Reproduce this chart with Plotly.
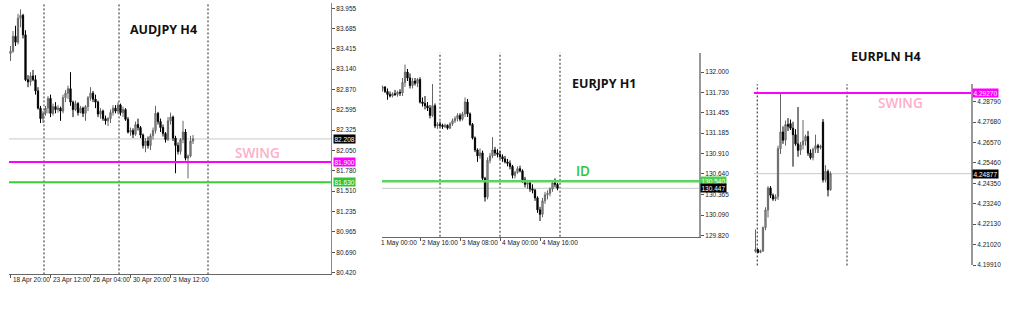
import plotly.graph_objects as go

W, H = 1024, 320

# ---------------- AUDJPY H4 ----------------
aud_open = [83.35, 83.38, 83.58, 83.50, 83.82, 83.86, 83.60, 83.00, 82.97, 83.05,
            83.00, 82.85, 82.62, 82.48, 82.55, 82.62, 82.75, 82.55, 82.64, 82.60,
            82.62, 82.58, 82.76, 82.82, 82.88, 82.70, 82.60, 82.68, 82.56, 82.62,
            82.55, 82.64, 82.76, 82.82, 82.74, 82.70, 82.54, 82.58, 82.48, 82.45,
            82.48, 82.56, 82.62, 82.58, 82.66, 82.56, 82.60, 82.47, 82.30, 82.32,
            82.27, 82.40, 82.36, 82.26, 82.12, 82.18, 82.12, 82.25, 82.32, 82.55,
            82.44, 82.36, 82.28, 82.20, 82.45, 82.50, 82.22, 82.12, 82.04, 82.20,
            82.30, 81.95, 81.98, 82.18]
aud_high = [83.45, 83.65, 83.72, 83.88, 83.94, 83.88, 83.66, 83.06, 83.10, 83.13,
            83.06, 82.90, 82.65, 82.58, 82.65, 82.78, 82.80, 82.68, 82.70, 82.66,
            82.64, 82.80, 82.86, 82.92, 83.10, 82.72, 82.72, 82.70, 82.65, 82.64,
            82.66, 82.78, 82.90, 82.85, 82.80, 82.72, 82.62, 82.60, 82.52, 82.50,
            82.60, 82.66, 82.66, 82.70, 82.68, 82.64, 82.62, 82.50, 82.36, 82.35,
            82.44, 82.48, 82.38, 82.28, 82.22, 82.24, 82.28, 82.36, 82.65, 82.57,
            82.48, 82.40, 82.30, 82.50, 82.56, 82.52, 82.25, 82.16, 82.22, 82.45,
            82.34, 82.00, 82.25, 82.26]
aud_low = [83.25, 83.36, 83.45, 83.47, 83.70, 83.55, 82.98, 82.90, 82.92, 82.98,
           82.80, 82.60, 82.42, 82.42, 82.52, 82.55, 82.50, 82.52, 82.55, 82.56,
           82.45, 82.55, 82.70, 82.74, 82.65, 82.50, 82.58, 82.52, 82.55, 82.50,
           82.45, 82.58, 82.72, 82.70, 82.62, 82.50, 82.48, 82.45, 82.40, 82.38,
           82.42, 82.52, 82.55, 82.54, 82.52, 82.50, 82.45, 82.28, 82.25, 82.22,
           82.25, 82.32, 82.22, 82.08, 82.03, 82.08, 82.06, 82.20, 82.28, 82.40,
           82.30, 82.24, 82.16, 82.18, 82.40, 82.18, 81.75, 82.00, 82.00, 82.15,
           81.92, 81.68, 81.96, 82.14]
aud_close = [83.38, 83.58, 83.50, 83.82, 83.86, 83.60, 83.00, 82.97, 83.05, 83.00,
             82.85, 82.62, 82.48, 82.55, 82.62, 82.75, 82.55, 82.64, 82.60, 82.62,
             82.58, 82.76, 82.82, 82.88, 82.70, 82.60, 82.68, 82.56, 82.62, 82.55,
             82.64, 82.76, 82.82, 82.74, 82.70, 82.54, 82.58, 82.48, 82.45, 82.48,
             82.56, 82.62, 82.58, 82.66, 82.56, 82.60, 82.47, 82.30, 82.32, 82.27,
             82.40, 82.36, 82.26, 82.12, 82.18, 82.12, 82.25, 82.32, 82.55, 82.44,
             82.36, 82.28, 82.20, 82.45, 82.50, 82.22, 82.12, 82.04, 82.20, 82.30,
             81.95, 81.98, 82.18, 82.208]
aud_xtick_bars = [0, 16, 32, 48, 64]
aud_xtick_labels = ["18 Apr 20:00", "23 Apr 12:00", "26 Apr 04:00", "30 Apr 20:00", "3 May 12:00"]
aud_separators = [13.4, 43.4, 79.0]
aud_yticks = [83.955, 83.685, 83.415, 83.140, 82.870, 82.595, 82.325, 82.050,
              81.780, 81.510, 81.235, 80.965, 80.690, 80.420]
aud_last = 82.208
aud_swing = 81.900
aud_green = 81.630

# ---------------- EURJPY H1 ----------------
ej_open = [131.78, 131.80, 131.74, 131.70, 131.68, 131.71, 131.70, 131.73, 131.72, 131.86,
           132.00, 131.92, 131.82, 131.88, 131.85, 131.90, 131.60, 131.58, 131.55, 131.52,
           131.42, 131.55, 131.28, 131.30, 131.29, 131.27, 131.29, 131.25, 131.31, 131.35,
           131.38, 131.42, 131.37, 131.44, 131.60, 131.44, 131.30, 131.12, 130.96, 130.88,
           130.92, 130.58, 130.33, 130.82, 130.88, 130.96, 130.92, 130.90, 130.87, 130.84,
           130.80, 130.78, 130.74, 130.62, 130.66, 130.71, 130.68, 130.56, 130.50, 130.52,
           130.44, 130.42, 130.32, 130.16, 130.10, 130.28, 130.36, 130.38, 130.44, 130.52,
           130.50]
ej_high = [131.82, 131.81, 131.78, 131.74, 131.73, 131.76, 131.75, 131.77, 131.92, 132.10,
           132.04, 131.98, 131.92, 131.92, 131.92, 131.93, 131.66, 131.68, 131.60, 131.56,
           131.84, 131.58, 131.33, 131.34, 131.31, 131.31, 131.30, 131.33, 131.38, 131.41,
           131.45, 131.45, 131.47, 131.66, 131.64, 131.46, 131.32, 131.14, 130.98, 130.98,
           130.95, 130.60, 130.86, 130.92, 131.13, 131.00, 130.97, 130.95, 130.90, 130.88,
           130.84, 130.82, 130.76, 130.68, 130.74, 130.75, 130.70, 130.60, 130.56, 130.54,
           130.50, 130.44, 130.34, 130.20, 130.32, 130.40, 130.42, 130.46, 130.55, 130.58,
           130.52]
ej_low = [131.74, 131.72, 131.63, 131.66, 131.66, 131.68, 131.67, 131.68, 131.68, 131.80,
          131.88, 131.78, 131.78, 131.82, 131.80, 131.58, 131.54, 131.50, 131.48, 131.38,
          131.40, 131.25, 131.24, 131.26, 131.24, 131.25, 131.23, 131.24, 131.28, 131.32,
          131.34, 131.34, 131.35, 131.40, 131.40, 131.28, 131.10, 130.93, 130.80, 130.84,
          130.55, 130.27, 130.30, 130.78, 130.85, 130.88, 130.86, 130.84, 130.80, 130.78,
          130.74, 130.70, 130.58, 130.58, 130.64, 130.66, 130.52, 130.46, 130.44, 130.40,
          130.38, 130.28, 130.12, 130.01, 130.06, 130.24, 130.30, 130.34, 130.40, 130.46,
          130.42]
ej_close = [131.80, 131.74, 131.70, 131.68, 131.71, 131.70, 131.73, 131.72, 131.86, 132.00,
            131.92, 131.82, 131.88, 131.85, 131.90, 131.60, 131.58, 131.55, 131.52, 131.42,
            131.55, 131.28, 131.30, 131.29, 131.27, 131.29, 131.25, 131.31, 131.35, 131.38,
            131.42, 131.37, 131.44, 131.60, 131.44, 131.30, 131.12, 130.96, 130.88, 130.92,
            130.58, 130.33, 130.82, 130.88, 130.96, 130.92, 130.90, 130.87, 130.84, 130.80,
            130.78, 130.74, 130.62, 130.66, 130.71, 130.68, 130.56, 130.50, 130.52, 130.44,
            130.42, 130.32, 130.16, 130.10, 130.28, 130.36, 130.38, 130.44, 130.52, 130.50,
            130.447]
ej_first_bar = 1
ej_xtick_bars = [0, 16, 32, 48, 64]
ej_xtick_labels = ["1 May 00:00", "2 May 16:00", "3 May 08:00", "4 May 00:00", "4 May 16:00"]
ej_separators = [24, 48, 72]
ej_yticks = [132.000, 131.730, 131.455, 131.185, 130.910, 130.640, 130.365, 130.090, 129.820]
ej_last = 130.447
ej_green = 130.540

# ---------------- EURPLN H4 ----------------
ep_open = [4.2065, 4.2075, 4.2060, 4.2068, 4.2195, 4.2290, 4.2410, 4.2370, 4.2350, 4.2362,
           4.2624, 4.2715, 4.2670, 4.2755, 4.2760, 4.2735, 4.2700, 4.2650, 4.2615, 4.2645,
           4.2665, 4.2690, 4.2600, 4.2575, 4.2620, 4.2640, 4.2630, 4.2768, 4.2454, 4.2500,
           4.2400]
ep_high = [4.2185, 4.2078, 4.2075, 4.2200, 4.2305, 4.2420, 4.2420, 4.2380, 4.2375, 4.2640,
           4.2924, 4.2745, 4.2777, 4.2790, 4.2782, 4.2770, 4.2730, 4.2850, 4.2660, 4.2780,
           4.2700, 4.2720, 4.2620, 4.2630, 4.2700, 4.2650, 4.2645, 4.2785, 4.2534, 4.2510,
           4.2500]
ep_low = [4.2058, 4.2055, 4.2055, 4.2062, 4.2180, 4.2250, 4.2355, 4.2340, 4.2338, 4.2345,
          4.2595, 4.2650, 4.2640, 4.2720, 4.2725, 4.2526, 4.2640, 4.2580, 4.2590, 4.2620,
          4.2640, 4.2585, 4.2565, 4.2560, 4.2600, 4.2600, 4.2620, 4.2440, 4.2440, 4.2364,
          4.2395]
ep_close = [4.2075, 4.2060, 4.2068, 4.2195, 4.2290, 4.2410, 4.2370, 4.2350, 4.2362, 4.2624,
            4.2715, 4.2670, 4.2755, 4.2745, 4.2735, 4.2700, 4.2650, 4.2615, 4.2645, 4.2665,
            4.2690, 4.2600, 4.2575, 4.2620, 4.2640, 4.2630, 4.2638, 4.2454, 4.2500, 4.2400,
            4.24877]
ep_separators = [0.7, 36.6]
ep_yticks = [4.28790, 4.27680, 4.26570, 4.25460, 4.24350, 4.23240, 4.22130, 4.21020, 4.19910]
ep_last = 4.24877
ep_swing = 4.29270

# ---------------- helpers ----------------
def px(x):
    return x / W

def py(y):
    return 1 - y / H

UP_FILL, UP_LINE = "#a0a0a0", "#666666"
DN_FILL, DN_LINE = "#000000", "#000000"
MAGENTA = "#ff00ff"
GREEN = "#3ccc3c"
GREY = "#c8c8c8"
PINK = "#ffadc8"
TICKFONT = dict(family="Liberation Sans, Arial, sans-serif", size=6.5, color="#222")

def candle(xs, o, h, l, c, xa, ya):
    return go.Candlestick(
        x=xs, open=o, high=h, low=l, close=c, xaxis=xa, yaxis=ya,
        increasing=dict(line=dict(color=UP_LINE, width=1), fillcolor=UP_FILL),
        decreasing=dict(line=dict(color=DN_LINE, width=1), fillcolor=DN_FILL),
        whiskerwidth=0, hoverinfo="skip", showlegend=False,
    )

fig = go.Figure()
fig.add_trace(candle(list(range(len(aud_close))), aud_open, aud_high, aud_low, aud_close, "x", "y"))
fig.add_trace(candle(list(range(ej_first_bar, ej_first_bar + len(ej_close))), ej_open, ej_high, ej_low, ej_close, "x2", "y2"))
fig.add_trace(candle(list(range(len(ep_close))), ep_open, ep_high, ep_low, ep_close, "x3", "y3"))

def yax(domain, rng, ticks, fmt, linecolor, linewidth):
    return dict(domain=domain, range=rng, side="right", showgrid=False, zeroline=False,
                showline=True, linecolor=linecolor, linewidth=linewidth,
                ticks="outside", ticklen=3, tickcolor="#555", tickwidth=1,
                tickvals=ticks, ticktext=[fmt.format(t) for t in ticks],
                tickfont=TICKFONT, fixedrange=True)

def xax(domain, rng, ticks, showline, anchor):
    return dict(domain=domain, range=rng, showgrid=False, zeroline=False,
                showline=showline, linecolor="#666", linewidth=1,
                ticks="outside" if ticks else "", ticklen=3, tickcolor="#555",
                tickvals=ticks, showticklabels=False, anchor=anchor,
                rangeslider=dict(visible=False), fixedrange=True)

# chart 1: x 9..331 px, y 3..277 px ; bar0 at x=10.5, 2.5 px/bar
fig.update_layout(
    xaxis=xax([px(9), px(331)], [(9 - 10.5) / 2.5, (331 - 10.5) / 2.5], aud_xtick_bars, True, "y"),
    yaxis=yax([py(277), py(3)], [80.420 - 1.7 / 75.53, 83.955 + 5.3 / 75.53], aud_yticks, "{:.3f}", "#888", 1),
    xaxis2=xax([px(382), px(699)], [(382 - 380) / 2.5, (699 - 380) / 2.5], ej_xtick_bars, True, "y2"),
    yaxis2=yax([py(239), py(53)], [132.0 - (239 - 72.7) / 75.6, 132.0 + (72.7 - 53) / 75.6], ej_yticks, "{:.3f}", "#999", 2),
    xaxis3=xax([px(754), px(971)], [(754 - 755.5) / 2.5, (971 - 755.5) / 2.5], None, False, "y3"),
    yaxis3=yax([py(268), py(85)], [4.28790 - (268 - 102.7) / 1856, 4.28790 + (102.7 - 85) / 1856], ep_yticks, "{:.5f}", "#999", 2),
)
fig.layout.yaxis.anchor = "x"
fig.layout.yaxis2.anchor = "x2"
fig.layout.yaxis3.anchor = "x3"

shapes = []
def hline(xa, ya, v, color, width, layer="above"):
    shapes.append(dict(type="line", xref=f"{xa} domain", x0=0, x1=1, yref=ya, y0=v, y1=v,
                       line=dict(color=color, width=width), layer=layer))

def vsep(xa, ya, v):
    shapes.append(dict(type="line", xref=xa, x0=v, x1=v, yref=f"{ya} domain", y0=0, y1=1,
                       line=dict(color="#222", width=1, dash="2px,2px"), layer="below"))

for s in aud_separators:
    vsep("x", "y", s)
for s in ej_separators:
    vsep("x2", "y2", s)
for s in ep_separators:
    vsep("x3", "y3", s)

hline("x", "y", aud_last, GREY, 1, "below")
hline("x", "y", aud_swing, MAGENTA, 2)
hline("x", "y", aud_green, GREEN, 2)
hline("x2", "y2", ej_last, GREY, 1, "below")
hline("x2", "y2", ej_green, "#5fd35f", 2.5)
hline("x3", "y3", ep_last, GREY, 1, "below")
hline("x3", "y3", ep_swing, MAGENTA, 2)
fig.update_layout(shapes=shapes)

ann = []
def price_box(xpix, ya, v, fmt, bg):
    ann.append(dict(x=px(xpix), xref="paper", xanchor="left", y=v, yref=ya, yanchor="middle",
                    text=fmt.format(v), showarrow=False, bgcolor=bg, borderpad=0.5,
                    font=dict(family=TICKFONT["family"], size=6.5, color="white")))

price_box(333, "y", aud_last, "{:.3f}", "#000")
price_box(333, "y", aud_swing, "{:.3f}", MAGENTA)
price_box(333, "y", aud_green, "{:.3f}", "#33c433")
price_box(700, "y2", ej_green, "{:.3f}", "#4fcf4f")
price_box(700, "y2", ej_last, "{:.3f}", "#000")
price_box(972, "y3", ep_swing, "{:.5f}", MAGENTA)
price_box(972, "y3", ep_last, "{:.5f}", "#000")

def xlabels(xa, bars, labels, ypix, x0pix=None):
    for i, (b, t) in enumerate(zip(bars, labels)):
        if i == 0 and x0pix is not None:
            xv, xr = px(x0pix), "paper"   # first label sits at the clipped left edge
        else:
            xv, xr = b, xa
        ann.append(dict(x=xv, xref=xr, xanchor="left", y=py(ypix), yref="paper", yanchor="middle",
                        text=t, showarrow=False, font=TICKFONT))

xlabels("x", aud_xtick_bars, aud_xtick_labels, 283)
xlabels("x2", ej_xtick_bars, ej_xtick_labels, 245, x0pix=379)

def text(xpix, ypix, t, size, color, bold=False, weight=None):
    f = dict(family="Open Sans, sans-serif", size=size, color=color)
    if weight:
        f["weight"] = weight
    ann.append(dict(x=px(xpix), xref="paper", y=py(ypix), yref="paper", xanchor="center",
                    yanchor="middle", showarrow=False,
                    text=f"<b>{t}</b>" if bold else t, font=f))

text(163, 30, "AUDJPY H4", 12.5, "#111", True)
text(257, 154, "SWING", 13.5, PINK, weight=600)
text(604, 84.5, "EURJPY H1", 12.5, "#111", True)
text(583, 172.5, "ID", 13.5, "#33c233", weight=600)
text(885.5, 57, "EURPLN H4", 12.5, "#111", True)
text(900.5, 103.5, "SWING", 13.5, PINK, weight=600)

fig.update_layout(annotations=ann, width=W, height=H,
                  margin=dict(l=0, r=0, t=0, b=0), paper_bgcolor="white",
                  plot_bgcolor="white", showlegend=False)

fig.write_html("out.html", config={"displayModeBar": False})
